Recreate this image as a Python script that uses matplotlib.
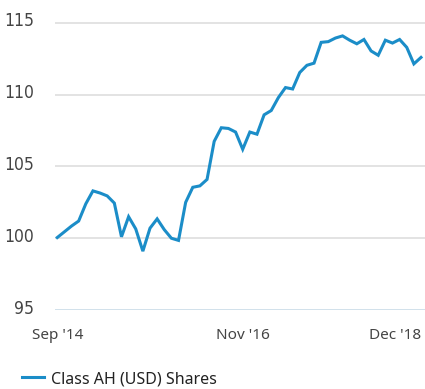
import numpy as np
import matplotlib
matplotlib.use('Agg')
import matplotlib.pyplot as plt
from matplotlib.transforms import ScaledTranslation


# Monthly growth of 100, Sep 2014 - Dec 2018
values = [
    100.05, 100.45, 100.85, 101.2, 102.4, 103.3, 103.15, 102.95, 102.45, 100.1,
    101.5, 100.65, 99.1, 100.7, 101.35, 100.6, 100.0, 99.85, 102.5, 103.55,
    103.65, 104.1, 106.75, 107.7, 107.65, 107.4, 106.2, 107.4, 107.25, 108.6,
    108.9, 109.8, 110.5, 110.4, 111.55, 112.05, 112.2, 113.65, 113.7, 113.95,
    114.1, 113.8, 113.55, 113.85, 113.05, 112.75, 113.8, 113.6, 113.85, 113.3,
    112.15, 112.6,
]
x_ticks = [0, 26, 51]
x_labels = ["Sep '14", "Nov '16", "Dec '18"]
y_ticks = [95, 100, 105, 110, 115]
series_name = 'Class AH (USD) Shares'

line_color = '#1b8dc8'
grid_color = '#dedede'
label_color = '#444444'

fig = plt.figure(figsize=(4.25, 3.89), dpi=100)
ax = fig.add_axes([55 / 425, 79 / 389, 370 / 425, 294.2 / 389])

x = np.arange(len(values))
ax.plot(x, values, color=line_color, lw=2.2, solid_joinstyle='miter',
        label=series_name, zorder=3)

ax.set_xlim(-0.32, 51.56)
ax.set_ylim(95, 115.5)

# horizontal gridlines only, bottom one tinted
for y in y_ticks:
    c = '#c9dbe8' if y == 95 else grid_color
    ax.axhline(y, color=c, lw=1.2, zorder=1)

for s in ax.spines.values():
    s.set_visible(False)

ax.set_yticks(y_ticks)
ax.set_yticklabels([str(v) for v in y_ticks], family=['DejaVu Sans'],
                   stretch='condensed', fontsize=12.5, color=label_color)
ax.tick_params(axis='y', length=0, pad=15)
shift_up = ScaledTranslation(0, 3.5 / 100, fig.dpi_scale_trans)
for lbl in ax.get_yticklabels():
    lbl.set_transform(lbl.get_transform() + shift_up)

ax.set_xticks(x_ticks)
ax.set_xticklabels(x_labels, family=['Noto Sans', 'DejaVu Sans'],
                   fontsize=11, color=label_color)
ax.tick_params(axis='x', length=0, pad=13)
ax.get_xticklabels()[-1].set_ha('right')

leg = fig.legend(loc='center left', bbox_to_anchor=(22 / 425, 10 / 389),
                 bbox_transform=fig.transFigure, frameon=False,
                 borderpad=0, borderaxespad=0, handlelength=1.35,
                 handletextpad=0.45,
                 prop={'family': ['Noto Sans', 'DejaVu Sans'], 'size': 11.5})
for t in leg.get_texts():
    t.set_color('#222222')

fig.savefig('out.png', dpi=100)
